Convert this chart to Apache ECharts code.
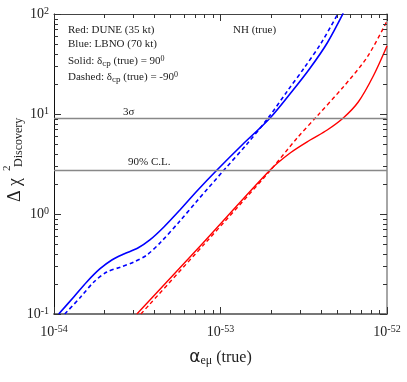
<!DOCTYPE html>
<html>
<head>
<meta charset="utf-8">
<script src="https://cdn.jsdelivr.net/npm/echarts@6/dist/echarts.min.js"></script>
<style>
  html, body { margin: 0; padding: 0; background: #fff; }
  #chart { width: 407px; height: 382px; }
</style>
</head>
<body>
<div id="chart"></div>
<script>
// x values are in units of 1e-54 (alpha_emu)
const X_UNIT_EXP = -54
const X_MIN = 1, X_MAX = 100
const Y_MIN = 0.1, Y_MAX = 100

const blueSolidX = [1.067, 1.314, 1.573, 1.884, 2.225, 2.627, 3.189, 3.765, 4.571, 5.705, 7.222, 9.527, 13.66, 19.86, 27.3, 34.56, 43.74, 54.6]
const blueSolidY = [0.1, 0.148, 0.209, 0.282, 0.347, 0.398, 0.457, 0.55, 0.741, 1.096, 1.698, 2.754, 5.012, 9.12, 17.38, 28.84, 51.29, 102]

const blueDashX = [1.16, 1.447, 1.734, 2.075, 2.519, 3.017, 3.613, 4.385, 5.705, 7.222, 10.5, 14.43, 19.31, 25.48, 31.8, 40.25, 50.93]
const blueDashY = [0.1, 0.148, 0.209, 0.263, 0.295, 0.331, 0.389, 0.525, 0.851, 1.349, 2.754, 5.012, 9.12, 17.38, 28.84, 51.29, 102]

const redSolidX = [3.146, 7.85, 19.86, 26.19, 34.56, 43.74, 54.6, 67.2, 82.73, 100]
const redSolidY = [0.1, 0.513, 2.754, 4.074, 5.495, 6.918, 9.12, 13.18, 23.99, 47.9]

const redDashX = [3.325, 8.07, 19.31, 28.86, 38.07, 54.6, 76.12, 100]
const redDashY = [0.1, 0.509, 2.57, 5.754, 9.55, 18.62, 37.15, 85.1]

const levelValues = [9, 2.71]   // 3 sigma, 90% C.L.

const xMinor = [2, 3, 4, 5, 6, 7, 8, 9, 20, 30, 40, 50, 60, 70, 80, 90]
const yMinor = [0.2, 0.3, 0.4, 0.5, 0.6, 0.7, 0.8, 0.9, 2, 3, 4, 5, 6, 7, 8, 9, 20, 30, 40, 50, 60, 70, 80, 90]

const zip = (xs, ys) => xs.map((x, i) => [x, ys[i]])
const SERIF = '"Liberation Serif", "DejaVu Serif", serif'

const chart = echarts.init(document.getElementById('chart'), null, { renderer: 'canvas' })

const supRich = {
  s: { fontSize: 10, fontFamily: SERIF, color: '#222', verticalAlign: 'top', padding: [0, 0, 6, 0] }
}

function expLabel(v, shift) {
  const e = Math.round(Math.log10(v)) + shift
  return '10{s|' + e + '}'
}

function axisBase(lineColor, lineWidth) {
  return {
    type: 'log',
    logBase: 10,
    splitLine: { show: false },
    axisLine: { show: true, lineStyle: { color: lineColor, width: lineWidth } },
    axisTick: { show: true, inside: true, length: 7, lineStyle: { color: '#333', width: 1 } },
  }
}

// crisp 1px line helper
const px = v => Math.round(v) + 0.5

// minor log ticks (2..9 in each decade), placed through the axes' own scales
function tickSeries(data, drawFn) {
  return {
    type: 'custom',
    silent: true,
    clip: false,
    data,
    encode: { x: 0, y: 1 },
    renderItem(params, api) {
      return { type: 'group', children: drawFn(api) }
    },
    z: 5,
  }
}

const tickStyle = () => ({ stroke: '#333', lineWidth: 1 })

const option = {
  animation: false,
  grid: { left: 54, right: 20, top: 14, bottom: 68 },
  xAxis: [
    Object.assign(axisBase('#777', 2), {
      min: X_MIN, max: X_MAX,
      axisLabel: {
        formatter: v => expLabel(v, X_UNIT_EXP),
        fontSize: 14, fontFamily: SERIF, color: '#222', margin: 10, rich: supRich,
      },
      name: '{a|α}{e|eμ}{t| (true)}',
      nameLocation: 'middle',
      nameGap: 35,
      nameTextStyle: {
        rich: {
          a: { fontSize: 17, fontFamily: '"DejaVu Sans", sans-serif', color: '#222' },
          e: { fontSize: 12, fontFamily: SERIF, color: '#222', verticalAlign: 'bottom', padding: [6, 0, 0, 0] },
          t: { fontSize: 16, fontFamily: SERIF, color: '#222' },
        },
      },
    }),
    Object.assign(axisBase('#444', 1), {
      min: X_MIN, max: X_MAX, position: 'top',
      axisLabel: { show: false },
    }),
  ],
  yAxis: [
    Object.assign(axisBase('#111', 1), {
      min: Y_MIN, max: Y_MAX,
      axisLabel: {
        formatter: v => expLabel(v, 0),
        fontSize: 14, fontFamily: SERIF, color: '#222', margin: 5, rich: supRich,
      },
    }),
    Object.assign(axisBase('#888', 1.5), {
      min: Y_MIN, max: Y_MAX, position: 'right',
      axisLabel: { show: false },
    }),
  ],
  series: [
    {
      type: 'line', name: 'LBNO 90', data: zip(blueSolidX, blueSolidY),
      showSymbol: false, smooth: 0.3, lineStyle: { color: '#0000ff', width: 1.6 },
      markLine: {
        silent: true, symbol: 'none', label: { show: false },
        lineStyle: { color: '#888', width: 1.3, type: 'solid' },
        data: levelValues.map(v => ({ yAxis: v })),
      },
    },
    {
      type: 'line', name: 'LBNO -90', data: zip(blueDashX, blueDashY),
      showSymbol: false, smooth: 0.3, lineStyle: { color: '#0000ff', width: 1.6, type: [4, 3] },
    },
    {
      type: 'line', name: 'DUNE 90', data: zip(redSolidX, redSolidY),
      showSymbol: false, smooth: 0.3, lineStyle: { color: '#ff0000', width: 1.4 },
    },
    {
      type: 'line', name: 'DUNE -90', data: zip(redDashX, redDashY),
      showSymbol: false, smooth: 0.3, lineStyle: { color: '#ff0000', width: 1.4, type: [4, 3] },
    },
    tickSeries(xMinor.map(v => [v, Y_MIN]), api => {
      const b = api.coord([api.value(0), Y_MIN])
      const t = api.coord([api.value(0), Y_MAX])
      const x = px(b[0])
      return [
        { type: 'line', shape: { x1: x, y1: b[1], x2: x, y2: b[1] - 4 }, style: tickStyle() },
        { type: 'line', shape: { x1: x, y1: t[1], x2: x, y2: t[1] + 4 }, style: tickStyle() },
      ]
    }),
    tickSeries(yMinor.map(v => [X_MIN, v]), api => {
      const l = api.coord([X_MIN, api.value(1)])
      const r = api.coord([X_MAX, api.value(1)])
      const y = px(l[1])
      return [
        { type: 'line', shape: { x1: l[0], y1: y, x2: l[0] + 4, y2: y }, style: tickStyle() },
        { type: 'line', shape: { x1: r[0], y1: y, x2: r[0] - 4, y2: y }, style: tickStyle() },
      ]
    }),
  ],
  graphic: [
    // y axis title, rotated to read upward
    {
      type: 'group', x: 15, y: 202, rotation: Math.PI / 2,
      children: [
        { type: 'text', x: 0, y: 0, style: { text: 'Δ χ', font: '18px ' + SERIF, fill: '#222', verticalAlign: 'middle' } },
        { type: 'text', x: 31, y: -8, style: { text: '2', font: '11px ' + SERIF, fill: '#222', verticalAlign: 'middle' } },
        { type: 'text', x: 35, y: 4, style: { text: 'Discovery', font: '12px ' + SERIF, fill: '#222', verticalAlign: 'middle' } },
      ],
    },
    {
      type: 'text', left: 68, top: 25,
      style: { text: 'Red: DUNE (35 kt)', font: '11px ' + SERIF, fill: '#222' },
    },
    {
      type: 'text', left: 68, top: 39,
      style: { text: 'Blue: LBNO (70 kt)', font: '11px ' + SERIF, fill: '#222' },
    },
    {
      type: 'text', left: 68, top: 55,
      style: {
        text: 'Solid: δ{b|cp} (true) = 90{p|0}', font: '11px ' + SERIF, fill: '#222',
        rich: {
          b: { fontSize: 9, fontFamily: SERIF, fill: '#222', verticalAlign: 'bottom', padding: [4, 0, 0, 0] },
          p: { fontSize: 8, fontFamily: SERIF, fill: '#222', verticalAlign: 'top', padding: [0, 0, 4, 0] },
        },
      },
    },
    {
      type: 'text', left: 68, top: 71,
      style: {
        text: 'Dashed: δ{b|cp} (true) = -90{p|0}', font: '11px ' + SERIF, fill: '#222',
        rich: {
          b: { fontSize: 9, fontFamily: SERIF, fill: '#222', verticalAlign: 'bottom', padding: [4, 0, 0, 0] },
          p: { fontSize: 8, fontFamily: SERIF, fill: '#222', verticalAlign: 'top', padding: [0, 0, 4, 0] },
        },
      },
    },
    {
      type: 'text', left: 233, top: 25,
      style: { text: 'NH (true)', font: '11px ' + SERIF, fill: '#222' },
    },
    {
      type: 'text', left: 123, top: 107,
      style: { text: '3σ', font: '11px ' + SERIF, fill: '#222' },
    },
    {
      type: 'text', left: 128, top: 157,
      style: { text: '90% C.L.', font: '11px ' + SERIF, fill: '#222' },
    },
  ],
}

chart.setOption(option)
window.addEventListener('resize', () => chart.resize())
</script>
</body>
</html>
